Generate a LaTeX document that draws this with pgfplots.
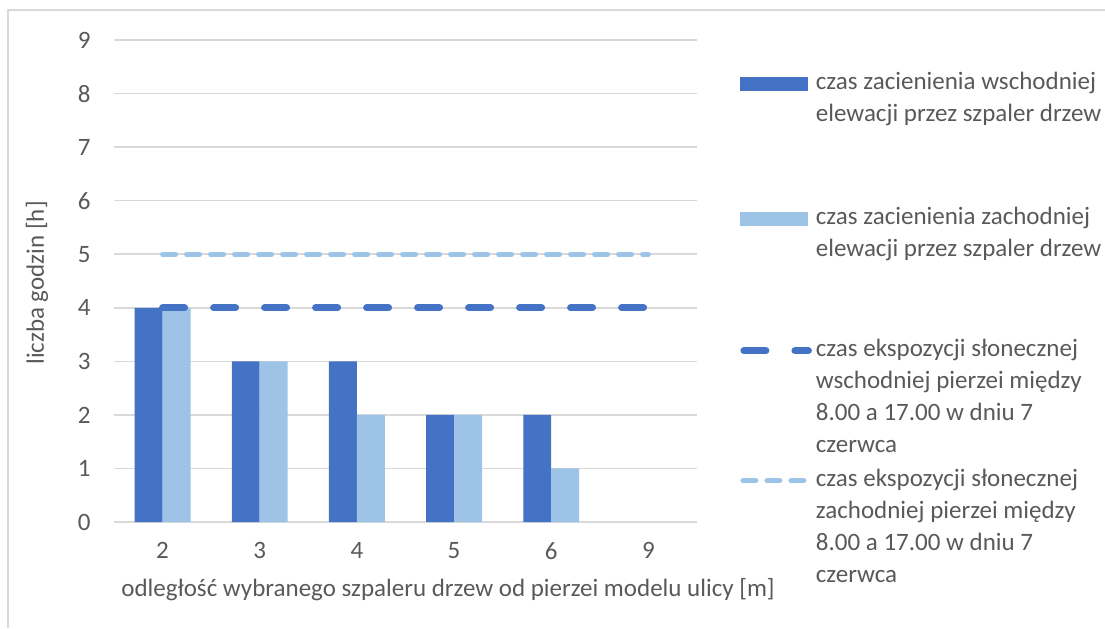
\documentclass[border=0pt]{standalone}
\usepackage{fontspec}
\setmainfont{Carlito}
\usepackage{pgfplots}
\pgfplotsset{compat=1.18}

\definecolor{wsch}{HTML}{4472C4}
\definecolor{zach}{HTML}{9DC3E6}
\definecolor{siatka}{HTML}{D9D9D9}
\definecolor{tekst}{HTML}{595959}

% legend text: top-aligned box of fixed height so the entries are evenly spread
\newcommand{\leg}[2]{\parbox[t][#1][t]{165pt}{#2}}

\begin{document}
\begin{tikzpicture}[font=\fontsize{12.5}{16}\selectfont]
\useasboundingbox (-57pt,-53pt) rectangle (495.5pt,261pt);
\draw[siatka, line width=0.75pt] (-53pt,-53pt) -- (-53pt,256pt) -- (495.5pt,256pt);

\begin{axis}[
  at={(0pt,0pt)}, anchor=south west,
  scale only axis, width=291.5pt, height=241pt,
  xmin=-0.5, xmax=5.5, ymin=0, ymax=9,
  xtick={0,...,5}, xticklabels={2,3,4,5,6,9},
  ytick={0,...,9},
  ymajorgrids, grid style={siatka, line width=0.75pt},
  axis x line*=bottom, axis y line*=left,
  x axis line style={siatka, line width=0.75pt, -},
  y axis line style={draw=none},
  tick style={draw=none}, major tick length=0pt,
  /pgf/number format/assume math mode=true,
  tick label style={text=tekst, inner sep=0pt},
  yticklabel style={anchor=east, xshift=-11.5pt},
  xticklabel style={anchor=north, yshift=-10pt},
  xlabel={odległość wybranego szpaleru drzew od pierzei modelu ulicy [m]},
  ylabel={liczba godzin [h]},
  label style={text=tekst},
  xlabel style={at={(axis description cs:0.573,-0.141)}, anchor=center},
  ylabel style={at={(axis description cs:-0.132,0.496)}, anchor=center},
  legend cell align=left,
  legend style={at={(1.0738,0.9336)}, anchor=north west, draw=none, fill=none,
    inner sep=0pt, row sep=0pt, column sep=2pt,
    nodes={inner sep=0pt, text=tekst, text depth=, text height=},
    cells={anchor=base west}},
  unbounded coords=discard,
]

% zero-height bars (category 9) are left out of the drawing
\addplot[ybar, fill=wsch, draw=none, bar width=0.288, bar shift=-0.144,
  y filter/.expression={y==0 ? nan : y},
  legend image code/.code={\fill[wsch] (0pt,-0.5pt) rectangle (34pt,6.5pt);}]
  coordinates {(0,4) (1,3) (2,3) (3,2) (4,2) (5,0)};
\addlegendentry{\leg{67.5pt}{czas zacienienia wschodniej\\elewacji przez szpaler drzew}}

\addplot[ybar, fill=zach, draw=none, bar width=0.288, bar shift=0.144,
  y filter/.expression={y==0 ? nan : y},
  legend image code/.code={\fill[zach] (0pt,-0.5pt) rectangle (34pt,6.5pt);}]
  coordinates {(0,4) (1,3) (2,2) (3,2) (4,1) (5,0)};
\addlegendentry{\leg{66pt}{czas zacienienia zachodniej\\elewacji przez szpaler drzew}}

\addplot[wsch, line width=3.5pt, line cap=round, dash pattern=on 11pt off 14.5pt,
  legend image code/.code={\draw[wsch, line width=3.5pt, line cap=round,
    dash pattern=on 11pt off 14.5pt] (1.75pt,3pt) -- (34pt,3pt);}]
  coordinates {(0,4) (1,4) (2,4) (3,4) (4,4) (5,4)};
\addlegendentry{\leg{65pt}{czas ekspozycji słonecznej\\wschodniej pierzei między\\8.00 a 17.00 w dniu 7\\czerwca}}

\addplot[zach, line width=2.5pt, line cap=round, dash pattern=on 6.5pt off 5.5pt,
  legend image code/.code={\draw[zach, line width=2.5pt, line cap=round,
    dash pattern=on 6.5pt off 5.5pt] (1.25pt,3pt) -- (34pt,3pt);}]
  coordinates {(0,5) (1,5) (2,5) (3,5) (4,5) (5,5)};
\addlegendentry{\leg{64pt}{czas ekspozycji słonecznej\\zachodniej pierzei między\\8.00 a 17.00 w dniu 7\\czerwca}}

\end{axis}
\end{tikzpicture}
\end{document}
